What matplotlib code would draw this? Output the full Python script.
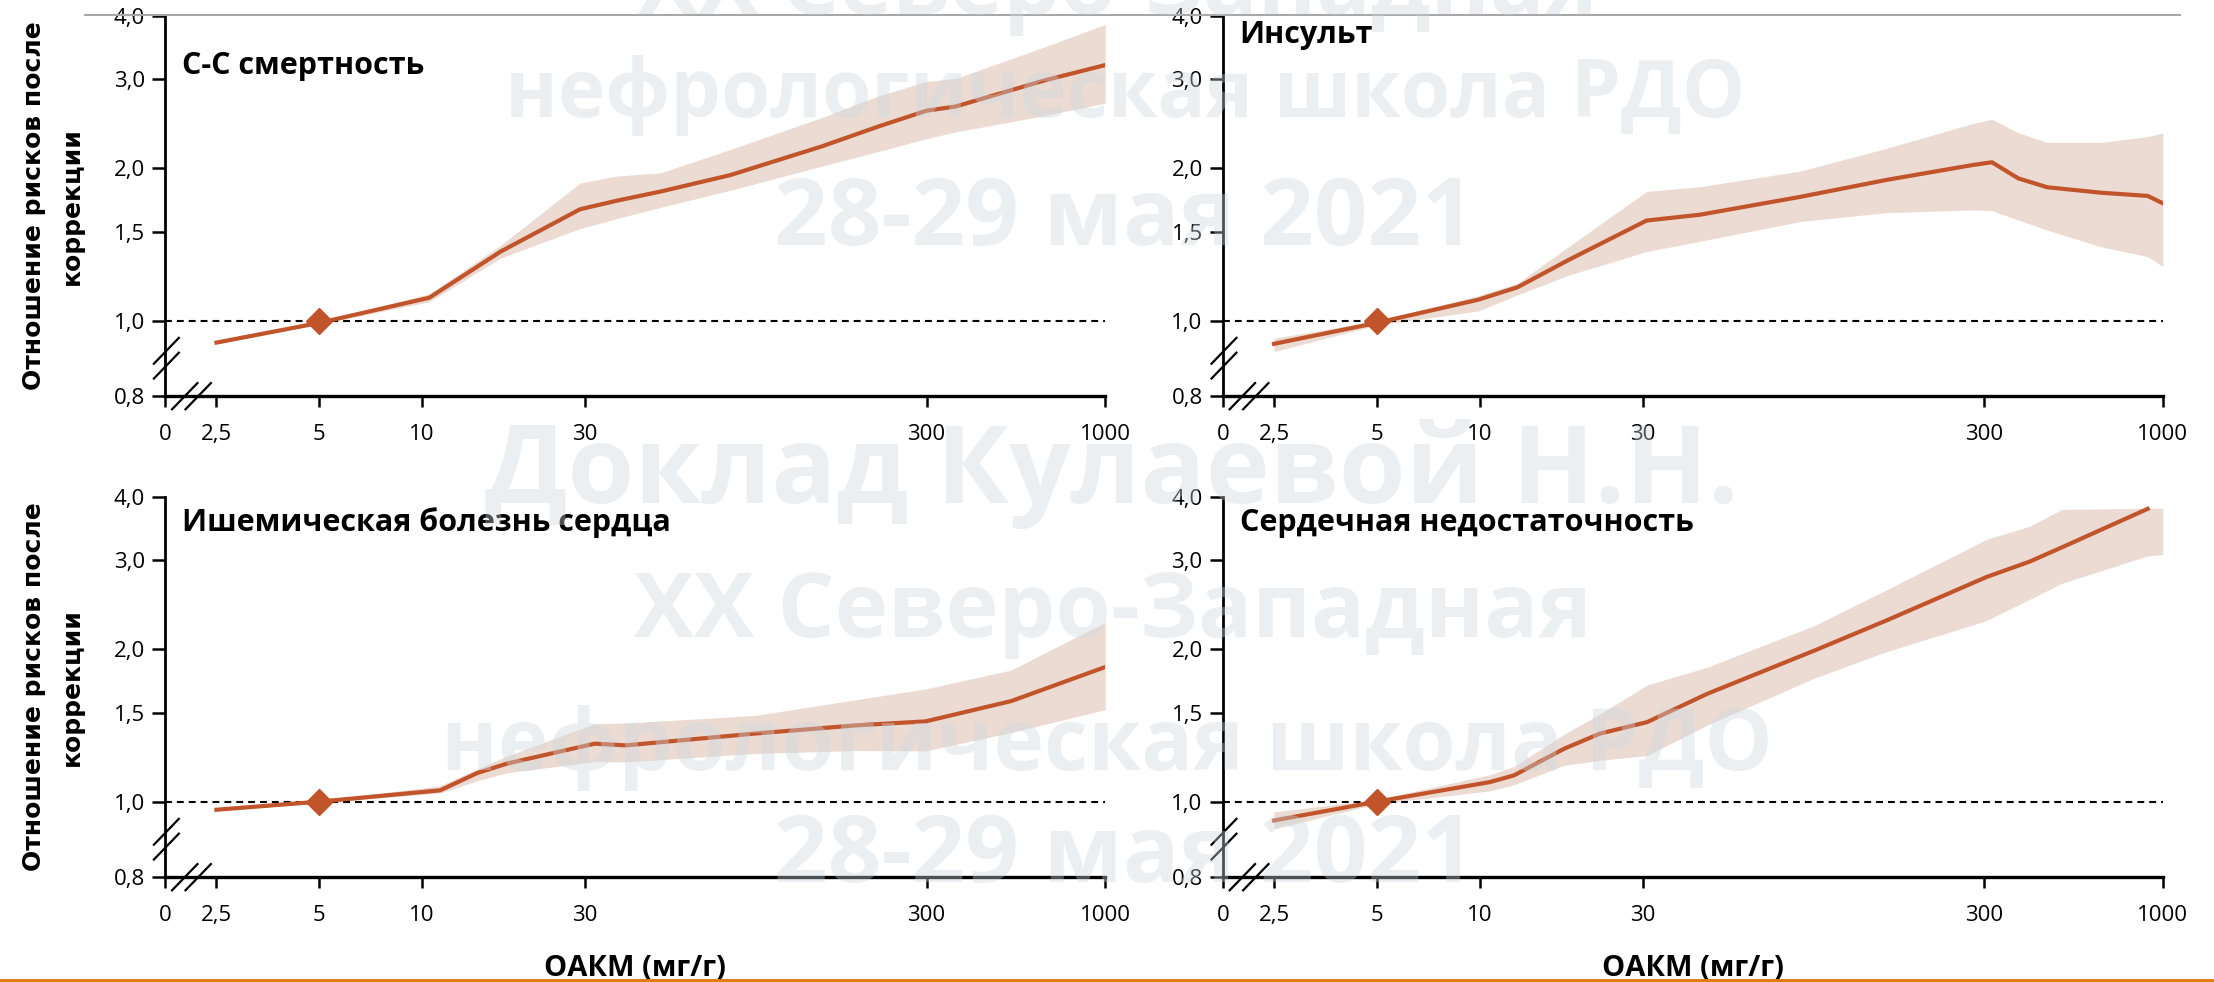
import numpy as np
import matplotlib
matplotlib.use("Agg")
import matplotlib.pyplot as plt
from matplotlib.ticker import FixedLocator, FixedFormatter, NullLocator
from matplotlib.lines import Line2D
from matplotlib.patches import Rectangle

# ---- data (hazard ratio vs ACR, mg/g) ----
titles = ["С-С смертность", "Инсульт",
          "Ишемическая болезнь сердца", "Сердечная недостаточность"]

cv_x = [2.5, 5, 10.5, 17, 29, 37, 50, 80, 148, 217, 300, 365, 660, 1000]
cv_y = [0.905, 0.99, 1.11, 1.37, 1.66, 1.725, 1.80, 1.94, 2.21, 2.42, 2.60, 2.65, 2.98, 3.20]
cv_lo = [0.90, 0.985, 1.09, 1.33, 1.52, 1.59, 1.675, 1.81, 2.02, 2.16, 2.29, 2.36, 2.54, 2.69]
cv_hi = [0.915, 0.995, 1.13, 1.41, 1.87, 1.93, 1.96, 2.18, 2.52, 2.78, 2.97, 3.01, 3.47, 3.85]

st_x = [2.5, 5, 9.9, 12.9, 18.2, 30.8, 44.3, 87, 155, 277, 316, 378, 459, 659, 903, 1000]
st_y = [0.90, 0.99, 1.10, 1.164, 1.318, 1.577, 1.62, 1.757, 1.897, 2.03, 2.056, 1.91, 1.835, 1.79, 1.764, 1.706]
st_lo = [0.869, 0.98, 1.045, 1.124, 1.23, 1.369, 1.436, 1.57, 1.635, 1.655, 1.65, 1.58, 1.51, 1.40, 1.338, 1.28]
st_hi = [0.923, 1.00, 1.12, 1.186, 1.40, 1.80, 1.84, 1.976, 2.19, 2.45, 2.50, 2.35, 2.25, 2.25, 2.31, 2.35]

ihd_x = [2.5, 5, 11.3, 14.5, 17.7, 32, 39.5, 94, 186, 298, 530, 1000]
ihd_y = [0.964, 1.0, 1.053, 1.139, 1.189, 1.302, 1.292, 1.363, 1.415, 1.441, 1.58, 1.845]
ihd_lo = [0.96, 0.995, 1.04, 1.10, 1.14, 1.20, 1.198, 1.245, 1.262, 1.26, 1.37, 1.52]
ihd_hi = [0.968, 1.005, 1.075, 1.16, 1.23, 1.426, 1.43, 1.48, 1.59, 1.67, 1.82, 2.26]

hf_x = [2.5, 5, 10.7, 12.6, 17.7, 22.5, 30.9, 46.5, 95.7, 155, 305, 407, 506, 903, 1000]
hf_y = [0.918, 1.0, 1.093, 1.127, 1.273, 1.363, 1.436, 1.635, 1.99, 2.28, 2.78, 2.98, 3.18, 3.79, np.nan]
hf_lo = [0.884, 0.99, 1.05, 1.08, 1.18, 1.207, 1.234, 1.418, 1.756, 1.978, 2.28, 2.51, 2.70, 3.06, 3.08]
hf_hi = [0.954, 1.01, 1.13, 1.174, 1.36, 1.49, 1.70, 1.845, 2.23, 2.62, 3.30, 3.50, 3.78, 3.80, 3.80]

ref_x, ref_y = 5, 1.0

x_ticks = [2.5, 5, 10, 30, 300, 1000]
x_tick_labels = ["2,5", "5", "10", "30", "300", "1000"]
y_ticks = [1.0, 1.5, 2.0, 3.0, 4.0]
y_tick_labels = ["1,0", "1,5", "2,0", "3,0", "4,0"]
x_zero_label = "0"      # broken x axis: "0" sits at the left end
y_floor_label = "0,8"   # broken y axis: "0,8" sits at the bottom

ylabel = "Отношение рисков после\nкоррекции"
xlabel = "ОАКМ (мг/г)"

watermark = [
    ("XX Северо-Западная", 1118, 14, 960),
    ("нефрологическая школа РДО", 1125, 117, 1239),
    ("28-29 мая 2021", 1125, 245, 701),
    ("Доклад Кулаевой Н.Н.", 1112, 503, 1254),
    ("XX Северо-Западная", 1113, 637, 958),
    ("нефрологическая школа РДО", 1107, 770, 1330),
    ("28-29 мая 2021", 1125, 882, 701),
]

# ---- style ----
LINE = "#c1542b"
BAND = "#ebdbd3"
W, H = 2214, 982
X_ZERO, Y_FLOOR = 1.77, 0.7098
TXT = "Open Sans"

plt.rcParams["font.family"] = [TXT, "DejaVu Sans"]

fig = plt.figure(figsize=(W / 100, H / 100), dpi=100)
fig.patch.set_facecolor("white")

panels = [
    (cv_x, cv_y, cv_lo, cv_hi, 165.2, 16, 0.847),
    (st_x, st_y, st_lo, st_hi, 1222.8, 16, 0.928),
    (ihd_x, ihd_y, ihd_lo, ihd_hi, 165.2, 497, 0.911),
    (hf_x, hf_y, hf_lo, hf_hi, 1222.8, 497, 0.911),
]

for i, (xs, ys, lo, hi, left, top, ty) in enumerate(panels):
    ax = fig.add_axes([left / W, 1 - (top + 380) / H, 940 / W, 380 / H])
    ax.set_xscale("log")
    ax.set_yscale("log")
    ax.set_xlim(X_ZERO, 1000)
    ax.set_ylim(Y_FLOOR, 4.0)

    ax.fill_between(xs, lo, hi, color=BAND, lw=0, zorder=1)
    ax.plot(xs, ys, color=LINE, lw=3.0, zorder=3, solid_joinstyle="round")
    ax.plot([ref_x], [ref_y], marker="D", ms=13, color=LINE, mec=LINE, zorder=4)
    ax.axhline(1.0, color="black", lw=1.5, ls=(0, (3.3, 2.4)), zorder=2)

    for s in ("top", "right"):
        ax.spines[s].set_visible(False)
    ax.spines["left"].set_linewidth(2.0)
    ax.spines["bottom"].set_linewidth(2.4)

    ax.xaxis.set_major_locator(FixedLocator([X_ZERO] + x_ticks))
    ax.xaxis.set_major_formatter(FixedFormatter([x_zero_label] + x_tick_labels))
    ax.yaxis.set_major_locator(FixedLocator([Y_FLOOR] + y_ticks))
    ax.yaxis.set_major_formatter(FixedFormatter([y_floor_label] + y_tick_labels))
    ax.xaxis.set_minor_locator(NullLocator())
    ax.yaxis.set_minor_locator(NullLocator())
    ax.tick_params(axis="x", length=8, width=1.8, pad=12, labelsize=16)
    ax.tick_params(axis="y", length=9.5, width=1.8, pad=5, labelsize=16)

    ax.text(0.018, ty, titles[i], transform=ax.transAxes, fontsize=22,
            fontweight="bold", ha="left", va="baseline")

    # axis break marks
    for y0 in (0.085, 0.046):
        ax.add_line(Line2D([-0.012, 0.0145], [y0, y0 + 0.068], transform=ax.transAxes,
                           color="black", lw=1.6, clip_on=False))
    for x0 in (0.0073, 0.0216):
        ax.add_line(Line2D([x0, x0 + 0.027], [-0.035, 0.034], transform=ax.transAxes,
                           color="black", lw=1.6, clip_on=False))

    cx = (left + 470) / W
    if i % 2 == 0:
        fig.text(53 / W, 1 - (top + 190) / H, ylabel, rotation=90, ha="center",
                 va="center", multialignment="center", fontsize=18,
                 fontweight="bold", family="DejaVu Sans", linespacing=1.75)
    if i >= 2:
        fig.text(cx, 1 - 976 / H, xlabel, ha="center", va="baseline",
                 fontsize=21, fontweight="bold")

# slide decorations
fig.add_artist(Line2D([85 / W, 2180 / W], [1 - 14.7 / H] * 2, color="#a8a8a8", lw=1.5))
fig.add_artist(Rectangle((0, 0), 1, 3.2 / H, transform=fig.transFigure,
                         color="#e07c14", lw=0, zorder=5))

# watermark, each line fitted to its measured width
renderer = fig.canvas.get_renderer()
for text, xc, yb, width in watermark:
    t = fig.text(xc / W, 1 - yb / H, text, ha="center", va="baseline", fontsize=72,
                 fontweight="bold", color=(0.80, 0.84, 0.87), alpha=0.38, zorder=6)
    w = t.get_window_extent(renderer).width
    t.set_fontsize(72 * width / w)

fig.savefig("out.png", dpi=100)
